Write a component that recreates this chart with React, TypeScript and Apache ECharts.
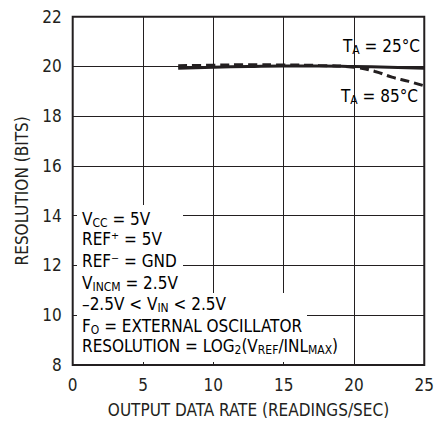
import React, { useEffect, useRef } from "react";
import * as echarts from "echarts";

const rate25 = [7.5, 10, 12.5, 15, 17.5, 20, 22.5, 25];
const res25 = [19.93, 19.97, 20.0, 20.02, 20.02, 20.0, 19.97, 19.93];
const rate85 = [7.5, 10, 12.5, 15, 17.5, 20, 21.5, 22.7, 23.9, 25];
const res85 = [20.03, 20.05, 20.07, 20.06, 20.04, 19.97, 19.8, 19.57, 19.4, 19.22];
const xTicks = [0, 5, 10, 15, 20, 25];
const yTicks = [8, 10, 12, 14, 16, 18, 20, 22];

const FONT = "'Liberation Sans Narrow', 'DejaVu Sans Condensed', sans-serif";
const INK = "#231f20";

export default function App() {
  const ref = useRef<HTMLDivElement>(null);
  useEffect(() => {
    document.body.style.margin = "0";
    const chart = echarts.init(ref.current!, null, { renderer: "svg" });
    const base = { fontFamily: FONT, fontSize: 17, color: INK };
    const rich = {
      n: { ...base },
      s: { fontFamily: FONT, fontSize: 12, color: INK, padding: [8, 0, 0, 0] },
    };
    const line = (y: number, text: string) => ({
      type: "text",
      left: 82,
      top: y - 11,
      z: 20,
      style: { text, ...base, rich },
    });
    chart.setOption({
      animation: false,
      grid: { left: 72.7, right: 11.3, top: 16.7, bottom: 56.3, show: true, borderColor: INK, borderWidth: 2, backgroundColor: "transparent" },
      xAxis: {
        type: "value",
        min: xTicks[0],
        max: xTicks[xTicks.length - 1],
        interval: 5,
        name: "OUTPUT DATA RATE (READINGS/SEC)",
        nameLocation: "middle",
        nameGap: 36,
        nameTextStyle: { ...base },
        axisLine: { show: false },
        axisTick: { show: false },
        axisLabel: { ...base, margin: 11 },
        splitLine: { show: true, lineStyle: { color: INK, width: 1 } },
      },
      yAxis: {
        type: "value",
        min: yTicks[0],
        max: yTicks[yTicks.length - 1],
        interval: 2,
        name: "RESOLUTION (BITS)",
        nameLocation: "middle",
        nameGap: 42,
        nameTextStyle: { ...base },
        axisLine: { show: false },
        axisTick: { show: false },
        axisLabel: { ...base, margin: 11 },
        splitLine: { show: true, lineStyle: { color: INK, width: 1 } },
      },
      series: [
        {
          type: "line",
          data: rate25.map((x, i) => [x, res25[i]]),
          smooth: true,
          showSymbol: false,
          lineStyle: { color: INK, width: 3 },
          z: 3,
        },
        {
          type: "line",
          data: rate85.map((x, i) => [x, res85[i]]),
          smooth: true,
          showSymbol: false,
          lineStyle: { color: INK, width: 3, type: [9, 5] },
          z: 4,
        },
      ],
      graphic: [
        { type: "rect", z: 10, shape: { x: 77, y: 205, width: 106, height: 88 }, style: { fill: "#fff" } },
        { type: "rect", z: 10, shape: { x: 77, y: 293, width: 230, height: 69 }, style: { fill: "#fff" } },
        { type: "rect", z: 10, shape: { x: 77, y: 320, width: 274, height: 42 }, style: { fill: "#fff" } },
        line(221.7, "{n|V}{s|CC}{n| = 5V}"),
        line(241.7, "{n|REF⁺ = 5V}"),
        line(263.3, "{n|REF⁻ = GND}"),
        line(285, "{n|V}{s|INCM}{n| = 2.5V}"),
        line(306.7, "{n|–2.5V < V}{s|IN}{n| < 2.5V}"),
        line(328.3, "{n|F}{s|O}{n| = EXTERNAL OSCILLATOR}"),
        line(348.3, "{n|RESOLUTION = LOG}{s|2}{n|(V}{s|REF}{n|/INL}{s|MAX}{n|)}"),
        { type: "text", left: 343, top: 37, z: 20, style: { text: "{n|T}{s|A}{n| = 25°C}", ...base, rich } },
        { type: "text", left: 341, top: 87, z: 20, style: { text: "{n|T}{s|A}{n| = 85°C}", ...base, rich } },
      ],
    });
    return () => chart.dispose();
  }, []);
  return <div ref={ref} style={{ width: 437, height: 423 }} />;
}
